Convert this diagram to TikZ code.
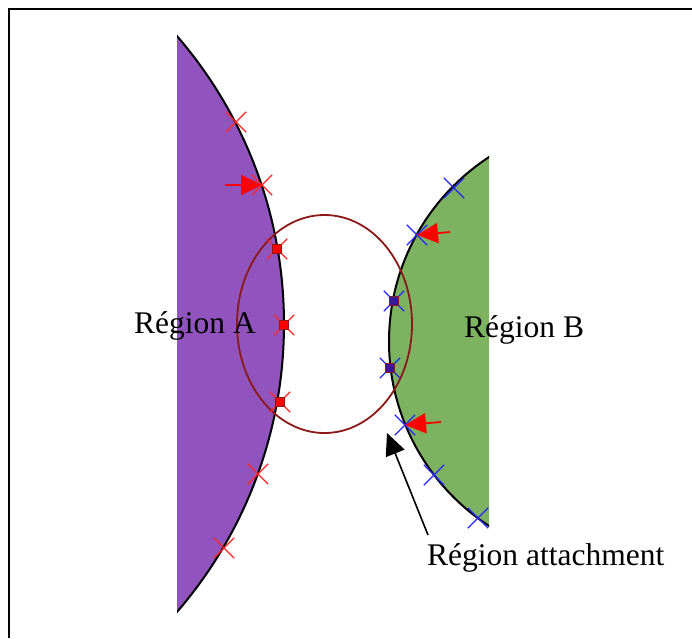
\documentclass[tikz,border=0pt]{standalone}
\usepackage{fontspec}
\setmainfont{Liberation Serif}
\usetikzlibrary{shapes.misc,arrows.meta}
\definecolor{regA}{RGB}{145,84,190}
\definecolor{regB}{RGB}{125,178,96}
\definecolor{ellc}{RGB}{140,24,24}
\definecolor{sqblue}{RGB}{60,20,160}
\tikzset{
  xr/.style={cross out,draw=red!85!white,line width=1.3pt,minimum size=19pt,inner sep=0pt},
  xb/.style={cross out,draw=blue!85!white,line width=1.3pt,minimum size=19pt,inner sep=0pt},
  sqr/.style={rectangle,fill=red,draw=ellc,line width=0.9pt,minimum size=9pt,inner sep=0pt},
  sqb/.style={rectangle,fill=sqblue,draw=ellc,line width=0.9pt,minimum size=9pt,inner sep=0pt},
  redarrow/.style={draw=red,line width=1.8pt,-{Triangle[length=21pt,width=20pt]}},
  blackarrow/.style={draw=black,line width=1.6pt,-{Triangle[length=22pt,width=20pt]}},
  lbl/.style={font=\fontsize{31.5pt}{36pt}\selectfont,inner sep=0pt,anchor=base west},
}
\begin{document}
\begin{tikzpicture}[x=1pt,y=-1pt]
\useasboundingbox (0,0) rectangle (692,638);
\fill[white] (0,0) rectangle (692,638);
% frame
\draw[line width=2pt] (8,9) -- (692,9);
\draw[line width=2pt] (9,9) -- (9,638);
% region A
\begin{scope}
\clip (177,0) rectangle (692,638);
\fill[regA] (-157,324) circle (441pt);
\draw[line width=2pt] (-157,324) circle (441pt);
\end{scope}
% region B
\begin{scope}
\clip (0,0) rectangle (489,638);
\fill[regB] (609,341.5) circle (220pt);
\draw[line width=2pt] (609,341.5) circle (220pt);
\end{scope}
% attachment ellipse
\draw[ellc,line width=1.8pt] (324.5,324) ellipse [x radius=87.5pt, y radius=109pt];
% markers on A
\node[xr] (a1) at (236,122) {};
\node[xr] (a2) at (262,185) {};
\node[xr] (a3) at (277,249) {};
\node[xr] (a4) at (284,325) {};
\node[xr] (a5) at (280,402) {};
\node[xr] (a6) at (258,474) {};
\node[xr] (a7) at (224,548) {};
\node[sqr] (sa3) at (277,249) {};
\node[sqr] (sa4) at (284,325) {};
\node[sqr] (sa5) at (280,402) {};
% markers on B
\node[xb] (b1) at (454,188) {};
\node[xb] (b2) at (417,235) {};
\node[xb] (b3) at (394,301) {};
\node[xb] (b4) at (390,368) {};
\node[xb] (b5) at (405,425) {};
\node[xb] (b6) at (434,475) {};
\node[xb] (b7) at (478,518) {};
\node[sqb] (sb3) at (394,301) {};
\node[sqb] (sb4) at (390,368) {};
% red arrows
\coordinate (r1) at (225,185);
\coordinate (r2) at (450,232);
\coordinate (r3) at (441,422);
\draw[redarrow] (r1) -- (a2.center);
\draw[redarrow] (r2) -- (b2.center);
\draw[redarrow] (r3) -- (b5.center);
% labels
\node[lbl] (ta) at (134,333) {Région A};
\node[lbl] (tb) at (464,337) {Région B};
\node[lbl] (tc) at (427,565) {Région attachment};
% black arrow
\coordinate (k1) at (428,535);
\coordinate (k2) at (387,433);
\draw[blackarrow] (k1) -- (k2);
\end{tikzpicture}
\end{document}
